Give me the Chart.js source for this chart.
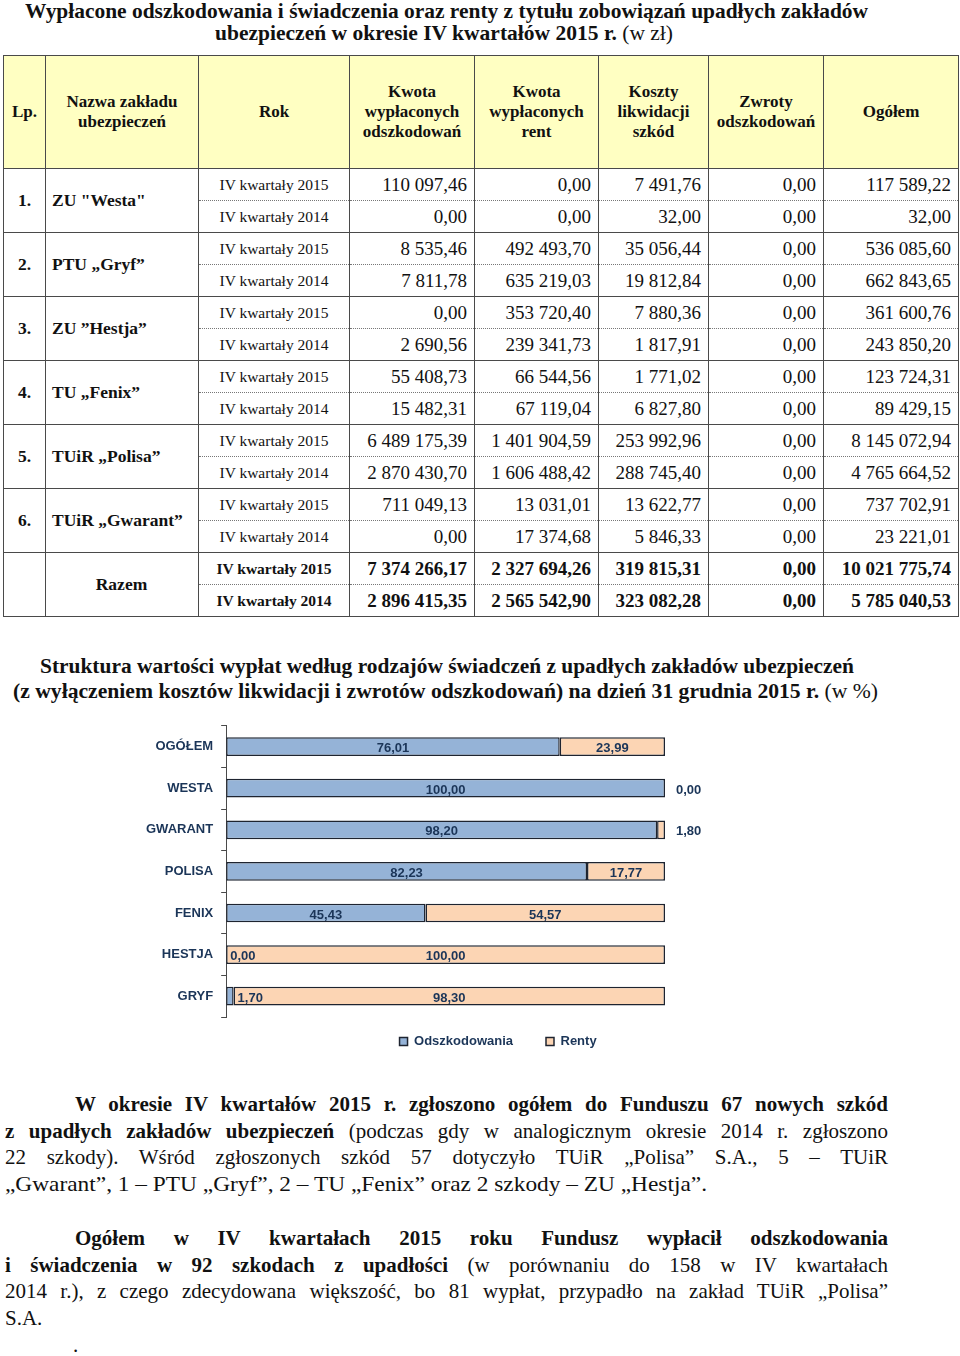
<!DOCTYPE html>
<html lang="pl">
<head>
<meta charset="utf-8">
<title>Wypłacone odszkodowania i świadczenia - IV kwartały 2015</title>
<script src="https://cdn.jsdelivr.net/npm/chart.js@4.4.1/dist/chart.umd.min.js"></script>
<style>
  html, body { margin: 0; padding: 0; background: #fff; }
  body { position: relative; width: 960px; height: 1356px; overflow: hidden;
         font-family: "Liberation Serif", "Times New Roman", serif; color: #111; }
  .ln { position: absolute; white-space: nowrap; transform-origin: 0 0; font-size: 21px; line-height: 21px; }
  .bold { font-weight: bold; }
  .reg { font-weight: normal; }
  #tbl { position: absolute; left: 3px; top: 55px; border-collapse: collapse; table-layout: fixed; }
  #tbl th, #tbl td { border: 1.5px solid #4a4a4a; padding: 0 7px; white-space: nowrap; }
  #tbl th { background: #ffffc2; height: 112px; font-size: 17px; line-height: 20px; }
  #tbl td { height: 31px; font-size: 19px; text-align: right; }
  #tbl td.lp { text-align: center; font-weight: bold; font-size: 17.5px; }
  #tbl td.nm { text-align: left; font-weight: bold; font-size: 17.5px; padding-left: 6px; }
  #tbl td.rok { text-align: center; font-size: 15.5px; }
  #tbl td.a { border-bottom: 1px dotted #777; }
  #tbl td.b { border-top: 1px dotted #777; }
  #tbl tr.tot td { font-weight: bold; }
  #tbl td.razem { text-align: center; }
  #chartBox { position: absolute; left: 130px; top: 710px; }
</style>
</head>
<body>

<div class="ln bold" data-w="843" style="left:25px;top:1px">Wypłacone odszkodowania i świadczenia oraz renty z tytułu zobowiązań upadłych zakładów</div>
<div class="ln bold" data-w="458" style="left:215px;top:23px">ubezpieczeń w okresie IV kwartałów 2015 r. <span class="reg">(w zł)</span></div>

<table id="tbl"></table>

<div class="ln bold" data-w="814" style="left:40px;top:656px;font-size:20px;line-height:20px">Struktura wartości wypłat według rodzajów świadczeń z upadłych zakładów ubezpieczeń</div>
<div class="ln bold" data-w="865" style="left:13px;top:681px;font-size:20px;line-height:20px">(z wyłączeniem kosztów likwidacji i zwrotów odszkodowań) na dzień 31 grudnia 2015 r. <span class="reg">(w %)</span></div>

<div id="chartBox"><canvas id="chart" width="640" height="363"></canvas></div>

<div class="ln bold" data-w="813" data-just="1" style="left:75px;top:1094px">W okresie IV kwartałów 2015 r. zgłoszono ogółem do Funduszu 67 nowych szkód</div>
<div class="ln" data-w="883" data-just="1" style="left:5px;top:1121px"><b>z upadłych zakładów ubezpieczeń</b> (podczas gdy w analogicznym okresie 2014 r. zgłoszono</div>
<div class="ln" data-w="883" data-just="1" style="left:5px;top:1147px">22 szkody). Wśród zgłoszonych szkód 57 dotyczyło TUiR „Polisa” S.A., 5 – TUiR</div>
<div class="ln" data-w="702" style="left:5px;top:1174px">„Gwarant”, 1 – PTU „Gryf”, 2 – TU „Fenix” oraz 2 szkody – ZU „Hestja”.</div>

<div class="ln bold" data-w="813" data-just="1" style="left:75px;top:1228px">Ogółem w IV kwartałach 2015 roku Fundusz wypłacił odszkodowania</div>
<div class="ln" data-w="883" data-just="1" style="left:5px;top:1255px"><b>i świadczenia w 92 szkodach z upadłości</b> (w porównaniu do 158 w IV kwartałach</div>
<div class="ln" data-w="883" data-just="1" style="left:5px;top:1281px">2014 r.), z czego zdecydowana większość, bo 81 wypłat, przypadło na zakład TUiR „Polisa”</div>
<div class="ln" style="left:5px;top:1308px">S.A.</div>
<div class="ln" style="left:73px;top:1335px">.</div>

<script>
// ---- tabela ----
const headers = ['Lp.', 'Nazwa zakładu<br>ubezpieczeń', 'Rok', 'Kwota<br>wypłaconych<br>odszkodowań',
                 'Kwota<br>wypłaconych<br>rent', 'Koszty<br>likwidacji<br>szkód', 'Zwroty<br>odszkodowań', 'Ogółem'];
const colWidths = [42, 153, 151, 125, 124, 110, 115, 135];
const lp = ['1.', '2.', '3.', '4.', '5.', '6.'];
const names = ['ZU "Westa"', 'PTU „Gryf”', 'ZU ”Hestja”', 'TU „Fenix”', 'TUiR „Polisa”', 'TUiR „Gwarant”'];
const years = ['IV kwartały 2015', 'IV kwartały 2014'];
const amounts = [
  [['110 097,46', '0,00', '7 491,76', '0,00', '117 589,22'], ['0,00', '0,00', '32,00', '0,00', '32,00']],
  [['8 535,46', '492 493,70', '35 056,44', '0,00', '536 085,60'], ['7 811,78', '635 219,03', '19 812,84', '0,00', '662 843,65']],
  [['0,00', '353 720,40', '7 880,36', '0,00', '361 600,76'], ['2 690,56', '239 341,73', '1 817,91', '0,00', '243 850,20']],
  [['55 408,73', '66 544,56', '1 771,02', '0,00', '123 724,31'], ['15 482,31', '67 119,04', '6 827,80', '0,00', '89 429,15']],
  [['6 489 175,39', '1 401 904,59', '253 992,96', '0,00', '8 145 072,94'], ['2 870 430,70', '1 606 488,42', '288 745,40', '0,00', '4 765 664,52']],
  [['711 049,13', '13 031,01', '13 622,77', '0,00', '737 702,91'], ['0,00', '17 374,68', '5 846,33', '0,00', '23 221,01']]
];
const totals = [['7 374 266,17', '2 327 694,26', '319 815,31', '0,00', '10 021 775,74'],
                ['2 896 415,35', '2 565 542,90', '323 082,28', '0,00', '5 785 040,53']];

// ---- wykres (w %) ----
const categories = ['OGÓŁEM', 'WESTA', 'GWARANT', 'POLISA', 'FENIX', 'HESTJA', 'GRYF'];
const odszkodowania = [76.01, 100.00, 98.20, 82.23, 45.43, 0.00, 1.70];
const renty = [23.99, 0.00, 1.80, 17.77, 54.57, 100.00, 98.30];
const seriesNames = ['Odszkodowania', 'Renty'];

function rowHtml(pair, first, tot) {
  let html = '';
  pair.forEach((vals, k) => {
    const cls = k ? 'b' : 'a';
    html += '<tr' + (tot ? ' class="tot"' : '') + '>';
    if (k === 0) html += first;
    html += `<td class="rok ${cls}">${years[k]}</td>` + vals.map(v => `<td class="${cls}">${v}</td>`).join('');
    html += '</tr>';
  });
  return html;
}

let html = '<colgroup>' + colWidths.map(w => `<col style="width:${w}px">`).join('') + '</colgroup>';
html += '<tr>' + headers.map(h => `<th>${h}</th>`).join('') + '</tr>';
names.forEach((n, i) => {
  html += rowHtml(amounts[i], `<td rowspan="2" class="lp">${lp[i]}</td><td rowspan="2" class="nm">${n}</td>`);
});
html += rowHtml(totals, '<td rowspan="2"></td><td rowspan="2" class="nm razem">Razem</td>', true);
document.getElementById('tbl').innerHTML = html;

// dopasowanie szerokości linii tekstu do oryginału
document.querySelectorAll('.ln[data-w]').forEach(el => {
  const target = +el.dataset.w;
  const natural = el.getBoundingClientRect().width;
  if (el.dataset.just && natural < target) {
    const gaps = (el.textContent.match(/ /g) || []).length;
    el.style.wordSpacing = ((target - natural) / gaps) + 'px';
  } else {
    el.style.transform = 'scaleX(' + (target / natural) + ')';
  }
});

const navy = '#1b3558';
const sans = '"Liberation Sans", Arial, sans-serif';

// etykiety wartości na słupkach
const valueLabels = {
  id: 'valueLabels',
  afterDatasetsDraw(chart) {
    const ctx = chart.ctx;
    ctx.save();
    ctx.font = 'bold 13px ' + sans;
    ctx.fillStyle = navy;
    ctx.textBaseline = 'middle';
    chart.data.datasets.forEach((ds, i) => {
      chart.getDatasetMeta(i).data.forEach((bar, j) => {
        const txt = ds.data[j].toFixed(2).replace('.', ',');
        const w = Math.abs(bar.x - bar.base);
        let x = (bar.x + bar.base) / 2;
        ctx.textAlign = 'center';
        if (w < 30) {
          ctx.textAlign = 'left';
          x = bar.x + (i === 0 ? 4 : 11);
        }
        ctx.fillText(txt, x, bar.y + 2);
      });
    });
    ctx.restore();
  }
};

// legenda: wyśrodkowana pod słupkami razem z etykietami, bliżej osi
const legendPlace = {
  id: 'legendPlace',
  afterLayout(chart) {
    const lg = chart.legend, area = chart.chartArea;
    lg.left = area.left;
    lg.right = chart.width;
    lg.width = lg.right - lg.left;
    lg.top = area.bottom - 15;
  }
};

const ds = (label, data, color) => ({
  label, data,
  backgroundColor: color,
  borderColor: '#1e2430',
  borderWidth: 1.5,
  borderSkipped: false,
  barPercentage: 0.45,
  categoryPercentage: 1
});

new Chart(document.getElementById('chart').getContext('2d'), {
  type: 'bar',
  data: {
    labels: categories,
    datasets: [ds(seriesNames[0], odszkodowania, '#95b3d7'), ds(seriesNames[1], renty, '#fcd5b4')]
  },
  options: {
    indexAxis: 'y',
    responsive: false,
    animation: false,
    devicePixelRatio: 1,
    layout: { padding: { left: 8, right: 105, top: 6, bottom: 0 } },
    scales: {
      x: { stacked: true, min: 0, max: 100, display: false },
      y: {
        stacked: true,
        grid: { drawOnChartArea: false, tickLength: 5, color: '#4a4a4a', offset: true },
        border: { color: '#4a4a4a', width: 1 },
        ticks: { color: navy, padding: 8, font: { family: sans, size: 13, weight: 'bold' } }
      }
    },
    plugins: {
      legend: {
        position: 'bottom',
        labels: { boxWidth: 8, boxHeight: 8, padding: 33, color: navy, font: { family: sans, size: 13, weight: 'bold' } }
      },
      tooltip: { enabled: false }
    }
  },
  plugins: [valueLabels, legendPlace]
});
</script>
</body>
</html>
